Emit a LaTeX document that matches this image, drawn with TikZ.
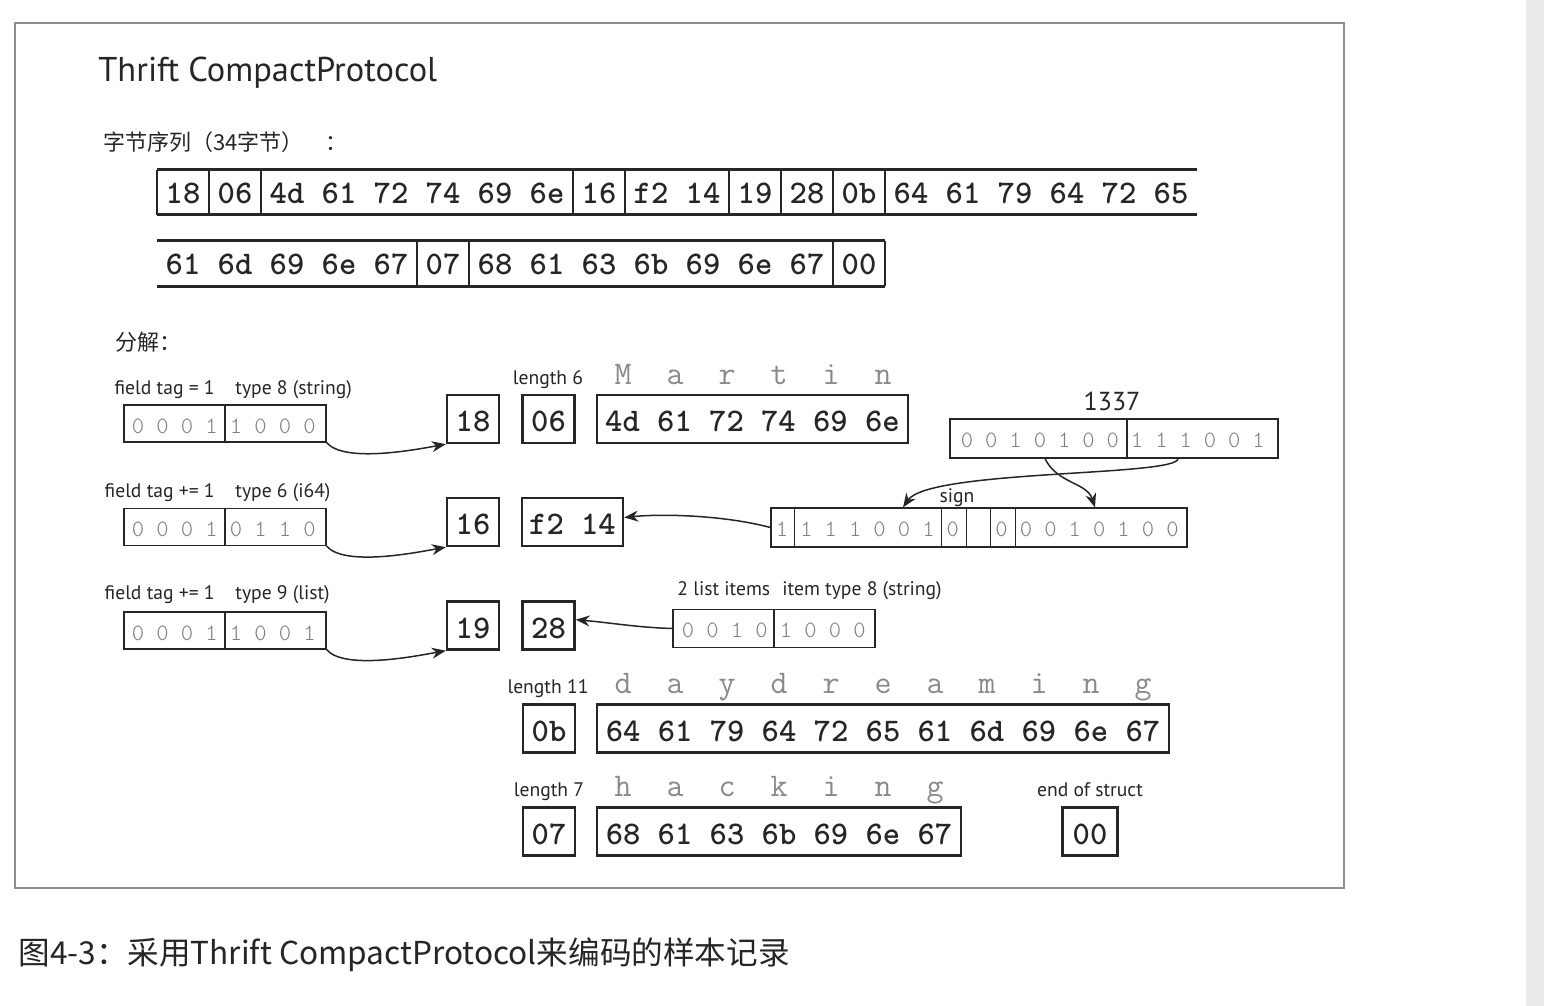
\documentclass[tikz,border=0pt]{standalone}
\usepackage{fontspec}
\setmainfont{PT Sans}
\newfontfamily\cjk{Noto Sans CJK SC}
\usetikzlibrary{positioning}
\usetikzlibrary{arrows.meta}

\definecolor{ink}{HTML}{262626}
\definecolor{bitgray}{HTML}{7E7E7E}
\definecolor{chargray}{HTML}{8A8A8A}
\definecolor{framegray}{HTML}{8E8E8E}
\definecolor{stripgray}{HTML}{EBEBEB}

\begin{document}
\begin{tikzpicture}
    [x=0.5pt, y=-0.5pt, color=ink,
      every node/.style={inner sep=0pt},
      hex/.style={font=\ttfamily\bfseries\fontsize{16.5}{16.5}\selectfont},
      bytebox/.style={hex, draw, line width=1.2pt, minimum height=24pt,
        text height=12.5pt, text depth=0pt},
      bitbox/.style={draw, line width=0.6pt, minimum height=18.5pt},
      bit/.style={font=\ttfamily\fontseries{l}\fontsize{11.7}{11.7}\selectfont,
        text=bitgray, anchor=base},
      chr/.style={font=\ttfamily\fontsize{16.5}{16.5}\selectfont, text=chargray, anchor=base},
      lbl/.style={font=\fontsize{9.8}{9.8}\selectfont, anchor=base west},
      link/.style={-{Stealth[length=7pt,width=5.5pt]}, line width=0.75pt},
     ]
    \fill[white] (0,0) rectangle (1544,1006);
    \fill[stripgray] (1526,0) rectangle (1544,1006);
    \useasboundingbox (0,0) rectangle (1544,1006);
    \draw[framegray, line width=0.8pt] (15,23) rectangle (1344,888);

    \node[anchor=base west, font=\fontsize{17.2}{17.2}\selectfont] (title) at (98,82) {Thrift CompactProtocol};
    \node[anchor=west, font=\cjk\fontsize{11}{11}\selectfont] (seqlabel) at (103,142) {字节序列（34字节）\hspace{11pt}：};

    % the 34 bytes
    \draw[line width=1.5pt] (157,170) -- (1197,170) (157,215) -- (1197,215);
    \foreach \x in {157,209,261,573,625,729,781,833,885}
      \draw[line width=0.8pt] (\x,170) -- (\x,215);
    \foreach \by [count=\i from 0] in {18,06,4d,61,72,74,69,6e,16,f2,14,19,28,0b,64,61,79,64,72,65}
      \node[hex, anchor=base] (seqA\i) at (183+52*\i,204) {\by};
    \draw[line width=1.5pt] (157,241) -- (885,241) (157,286) -- (885,286);
    \foreach \x in {417,469,833,885}
      \draw[line width=0.8pt] (\x,241) -- (\x,286);
    \foreach \by [count=\i from 0] in {61,6d,69,6e,67,07,68,61,63,6b,69,6e,67,00}
      \node[hex, anchor=base] (seqB\i) at (183+52*\i,275) {\by};

    \node[anchor=west, font=\cjk\fontsize{11}{11}\selectfont] (parts) at (115,342) {分解：};

    % field 1: userName
    \node[lbl, anchor=base east] (tagA) at (215,394) {field tag = 1};
    \node[lbl] (typeA) at (235,394) {type 8 (string)};
    \node[bitbox, minimum width=101pt] (bitsA) at (225,423.5) {};
    \draw[line width=0.6pt] (bitsA.north) -- (bitsA.south);
    \foreach \v [count=\i from 0] in {0,0,0,1,1,0,0,0}
      \node[bit] (bitA\i) at (138+24.5*\i,433) {\v};
    \node[bytebox, minimum width=26pt] (b18) at (473,419) {18};
    \node[bytebox, minimum width=26pt] (b06) at (548.5,419) {06};
    \node[bytebox, minimum width=155.5pt] (bMartin) at (752.5,419) {4d 61 72 74 69 6e};
    \node[lbl, anchor=base] (lenA) at (548,384) {length 6};
    \foreach \c [count=\i from 0] in {M,a,r,t,i,n}
      \node[chr] (martin\i) at (623+52*\i,384) {\c};
    \draw[link] (bitsA.south east) .. controls +(18,21) and +(-28,5) .. (b18.south west);

    % field 2: favoriteNumber
    \node[lbl, anchor=base east] (tagB) at (215,497) {field tag += 1};
    \node[lbl] (typeB) at (235,497) {type 6 (i64)};
    \node[bitbox, minimum width=101pt] (bitsB) at (225,527) {};
    \draw[line width=0.6pt] (bitsB.north) -- (bitsB.south);
    \foreach \v [count=\i from 0] in {0,0,0,1,0,1,1,0}
      \node[bit] (bitB\i) at (138+24.5*\i,536) {\v};
    \node[bytebox, minimum width=26pt] (b16) at (473,522) {16};
    \node[bytebox, minimum width=50.5pt] (bf214) at (572.5,522) {f2 14};
    \draw[link] (bitsB.south east) .. controls +(18,21) and +(-28,5) .. (b16.south west);

    \node[lbl, anchor=base, font=\fontsize{13}{13}\selectfont] (n1337) at (1112,410) {1337};
    \node[bitbox, minimum width=164pt, minimum height=19.5pt] (bits1337) at (1114,438.5) {};
    \draw[line width=0.6pt] ([xshift=6.5pt]bits1337.north) -- ([xshift=6.5pt]bits1337.south);
    \foreach \v [count=\i from 0] in {0,0,1,0,1,0,0,1,1,1,0,0,1}
      \node[bit] (bitN\i) at (967+24.3*\i,447) {\v};

    \node[bitbox, minimum width=208pt, minimum height=19.5pt] (bitsZig) at (979,527.5) {};
    \foreach \k in {1,7,8,9,10}
      \draw[line width=0.6pt] ([xshift=\k*12.235pt]bitsZig.north west) -- ([xshift=\k*12.235pt]bitsZig.south west);
    \foreach \s/\v in {0/1,1/1,2/1,3/1,4/0,5/0,6/1,7/0,9/0,10/0,11/0,12/1,13/0,14/1,15/0,16/0}
      \node[bit] (zig\s) at (782+24.4*\s,536) {\v};
    \node[lbl, anchor=base] (sign) at (957,502) {sign};

    \draw[link] ([xshift=-34.5pt]bits1337.south) .. controls +(12,25) and +(-8,-25) .. ([xshift=58pt]bitsZig.north);
    \draw[link] ([xshift=32pt]bits1337.south) .. controls +(0,18) and +(26,-38) .. ([xshift=-38pt]bitsZig.north);
    \draw[link] (bitsZig.west) .. controls +(-45,-12) and +(40,-4) .. (bf214.5);

    % field 3: interests
    \node[lbl, anchor=base east] (tagC) at (215,599) {field tag += 1};
    \node[lbl] (typeC) at (235,599) {type 9 (list)};
    \node[bitbox, minimum width=101pt] (bitsC) at (225,630.5) {};
    \draw[line width=0.6pt] (bitsC.north) -- (bitsC.south);
    \foreach \v [count=\i from 0] in {0,0,0,1,1,0,0,1}
      \node[bit] (bitC\i) at (138+24.5*\i,640) {\v};
    \node[bytebox, minimum width=26pt] (b19) at (473,625.5) {19};
    \node[bytebox, minimum width=26pt] (b28) at (548.5,625.5) {28};
    \draw[link] (bitsC.south east) .. controls +(18,21) and +(-28,5) .. (b19.south west);

    \node[lbl] (listA) at (677,595) {2 list items};
    \node[lbl] (listB) at (782,595) {item type 8 (string)};
    \node[bitbox, minimum width=101pt, minimum height=19pt] (bitsList) at (774,628.5) {};
    \draw[line width=0.6pt] (bitsList.north) -- (bitsList.south);
    \foreach \v [count=\i from 0] in {0,0,1,0,1,0,0,0}
      \node[bit] (bitL\i) at (688+24.5*\i,637) {\v};
    \draw[link] (bitsList.west) .. controls +(-35,-1) and +(35,3) .. (b28.12);

    \node[lbl, anchor=base] (lenD) at (548,693) {length 11};
    \foreach \c [count=\i from 0] in {d,a,y,d,r,e,a,m,i,n,g}
      \node[chr] (day\i) at (623+52*\i,693) {\c};
    \node[bytebox, minimum width=26pt] (b0b) at (549,728.5) {0b};
    \node[bytebox, minimum width=286pt] (bDay) at (883,728.5) {64 61 79 64 72 65 61 6d 69 6e 67};

    \node[lbl, anchor=base] (lenE) at (549,796) {length 7};
    \foreach \c [count=\i from 0] in {h,a,c,k,i,n,g}
      \node[chr] (hack\i) at (623+52*\i,796) {\c};
    \node[bytebox, minimum width=26pt] (b07) at (549,831.5) {07};
    \node[bytebox, minimum width=182pt] (bHack) at (779,831.5) {68 61 63 6b 69 6e 67};

    \node[lbl, anchor=base] (endlbl) at (1090,796) {end of struct};
    \node[bytebox, minimum width=27.5pt] (b00) at (1090,831.5) {00};

    \node[anchor=base west, font=\cjk\fontsize{15.8}{15.8}\selectfont] (caption) at (18,964) {图4-3：采用Thrift CompactProtocol来编码的样本记录};
\end{tikzpicture}
\end{document}
